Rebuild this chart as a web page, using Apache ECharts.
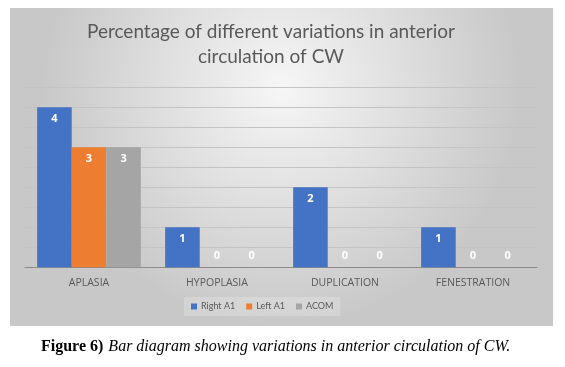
<!DOCTYPE html>
<html><head><meta charset="utf-8">
<script src="https://cdn.jsdelivr.net/npm/echarts@6/dist/echarts.min.js"></script>
<style>html,body{margin:0;padding:0;background:#fff}#c{width:565px;height:367px}</style>
</head><body><div id="c"></div>
<script>
var categories = ['APLASIA', 'HYPOPLASIA', 'DUPLICATION', 'FENESTRATION'];
var seriesNames = ['Right A1', 'Left A1', 'ACOM'];
var rightA1 = [4, 1, 2, 1];
var leftA1 = [3, 0, 0, 0];
var acom = [3, 0, 0, 0];
var colors = ['#4472C4', '#ED7D31', '#A5A5A5'];
var yMax = 4.5, yInterval = 0.5;
var titleText = 'Percentage of different variations in anterior\ncirculation of CW';

var chart = echarts.init(document.getElementById('c'), null, {renderer: 'canvas'});
function mk(vals) {
  return vals.map(function (v) {
    return v === 0 ? {value: v, label: {position: 'insideBottom', distance: 6}} : v;
  });
}
var valuesList = [rightA1, leftA1, acom];
var series = valuesList.map(function (vals, i) {
  return {
    name: seriesNames[i], type: 'bar', data: mk(vals),
    barGap: '0%', barCategoryGap: '19%',
    itemStyle: {color: colors[i]},
    label: {show: true, position: 'insideTop', distance: 6, color: '#fff',
      fontFamily: 'Open Sans', fontSize: 11, fontWeight: 'bold'}
  };
});
chart.setOption({
  animation: false,
  graphic: [{
    type: 'rect', z: -10, silent: true,
    shape: {x: 10, y: 8, width: 543, height: 318},
    style: {fill: {type: 'radial', x: 0.5, y: 0.25, r: 0.75,
      colorStops: [{offset: 0, color: '#f6f6f6'}, {offset: 1, color: '#c8c8c8'}]}}
  }, {
    type: 'text', x: 271, y: 19, silent: true,
    style: {text: titleText, textAlign: 'center', textVerticalAlign: 'top',
      fontFamily: 'Lato', fontSize: 19, fill: '#595959', lineHeight: 25}
  }],
  title: [{
    text: '{b|Figure 6)} {i|Bar diagram showing variations in anterior circulation of CW.}',
    left: 36, top: 333,
    textStyle: {fontWeight: 'normal', rich: {
      b: {fontFamily: 'Liberation Serif', fontSize: 16, fontWeight: 'bold', color: '#000'},
      i: {fontFamily: 'Liberation Serif', fontSize: 16, fontStyle: 'italic', fontWeight: 'normal', color: '#000'}
    }}
  }],
  legend: {
    data: seriesNames, top: 297, left: 184,
    itemWidth: 6, itemHeight: 6, itemGap: 11, icon: 'rect',
    backgroundColor: 'rgba(255,255,255,0.2)', padding: [5, 7],
    textStyle: {fontFamily: 'Lato', fontSize: 9, color: '#595959', padding: [0, 0, 0, -1]}
  },
  grid: {left: 25, right: 28, top: 87.3, bottom: 99.7, containLabel: false},
  xAxis: {
    type: 'category', data: categories,
    axisLine: {lineStyle: {color: '#8c8c8c', width: 1}},
    axisTick: {show: false},
    axisLabel: {fontFamily: 'Open Sans', fontSize: 10.5, color: '#595959', margin: 10}
  },
  yAxis: {
    type: 'value', min: 0, max: yMax, interval: yInterval,
    axisLabel: {show: false}, axisLine: {show: false}, axisTick: {show: false},
    splitLine: {lineStyle: {color: '#c4c4c4', width: 1}}
  },
  series: series
});
</script></body></html>
